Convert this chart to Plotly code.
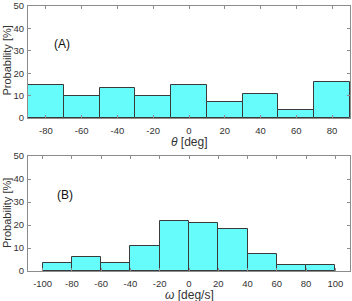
import plotly.graph_objects as go

# Panel A data
theta_edges = [-90, -70, -50, -30, -10, 10, 30, 50, 70, 90]
theta_prob = [14.6, 9.85, 13.4, 9.85, 14.6, 7.3, 10.9, 3.6, 15.9]
theta_ticks = [-80, -60, -40, -20, 0, 20, 40, 60, 80]
theta_ticktext = ["-80", "-60", "-40", "-20", "0", "20", "40", "60", "80"]

# Panel B data
omega_edges = [-100, -80, -60, -40, -20, 0, 20, 40, 60, 80, 100]
omega_prob = [3.6, 6.1, 3.6, 10.9, 21.9, 20.7, 18.1, 7.2, 2.5, 2.5]
omega_ticks = [-100, -80, -60, -40, -20, 0, 20, 40, 60, 80, 100]
omega_ticktext = ["-100", "-80", "-60", "-40", "-20", "0", "20", "40", "60", "80", "100"]

y_ticks = [0, 10, 20, 30, 40, 50]

FILL = "#66FCFC"
EDGE = "#3A3A3A"
FRAME = "#8C8C8C"
FONT = "Liberation Sans, Arial, Helvetica, sans-serif"
W, H = 352, 301


def centers(edges):
    return [(a + b) / 2 for a, b in zip(edges[:-1], edges[1:])]


def widths(edges):
    return [b - a for a, b in zip(edges[:-1], edges[1:])]


fig = go.Figure()
fig.add_trace(go.Bar(x=centers(theta_edges), y=theta_prob, width=widths(theta_edges),
                     marker=dict(color=FILL, line=dict(color=EDGE, width=1)),
                     xaxis="x", yaxis="y", showlegend=False))
fig.add_trace(go.Bar(x=centers(omega_edges), y=omega_prob, width=widths(omega_edges),
                     marker=dict(color=FILL, line=dict(color=EDGE, width=1)),
                     xaxis="x2", yaxis="y2", showlegend=False))

axis_common = dict(showline=True, linecolor=FRAME, linewidth=1, mirror="ticks",
                   ticks="inside", ticklen=3, tickcolor=FRAME, showgrid=False,
                   zeroline=False, automargin=False, ticklabeloverflow="allow",
                   tickfont=dict(size=9.5, color="#333333", family=FONT))

xd = [28 / W, 350 / W]
ya = [1 - 118 / H, 1 - 6 / H]
yb = [1 - 271 / H, 1 - 156 / H]

title_font = dict(size=11, color="#333333", family=FONT)


def paper_y(py):
    return 1 - py / H


fig.update_layout(
    width=W, height=H,
    margin=dict(l=0, r=0, t=0, b=0),
    paper_bgcolor="white", plot_bgcolor="white",
    font=dict(family=FONT, color="#333333"),
    bargap=0,
    xaxis=dict(domain=xd, range=[-90, 90], tickvals=theta_ticks, ticktext=theta_ticktext,
               anchor="y", ticklabelstandoff=4, **axis_common),
    yaxis=dict(domain=ya, range=[0, 50], tickvals=y_ticks, anchor="x", ticklabelstandoff=1,
               **axis_common),
    xaxis2=dict(domain=xd, range=[-110, 110], tickvals=omega_ticks, ticktext=omega_ticktext,
                anchor="y2", ticklabelstandoff=4, **axis_common),
    yaxis2=dict(domain=yb, range=[0, 50], tickvals=y_ticks, anchor="x2", ticklabelstandoff=1,
                **axis_common),
    annotations=[
        dict(text="(A)", x=-71, y=33, xref="x", yref="y", showarrow=False,
             font=dict(size=12, color="#111111", family=FONT)),
        dict(text="(B)", x=-85, y=33, xref="x2", yref="y2", showarrow=False,
             font=dict(size=12, color="#111111", family=FONT)),
        dict(text="Probability [%]", textangle=-90, x=6.5 / W, y=paper_y(61), xref="paper",
             yref="paper", showarrow=False, font=title_font, xanchor="center", yanchor="middle"),
        dict(text="Probability [%]", textangle=-90, x=6.5 / W, y=paper_y(213.5), xref="paper",
             yref="paper", showarrow=False, font=title_font, xanchor="center", yanchor="middle"),
        dict(text="<i>θ</i> [deg]", x=189 / W, y=paper_y(142), xref="paper", yref="paper",
             showarrow=False, font=dict(size=12, color="#333333", family=FONT),
             xanchor="center", yanchor="middle"),
        dict(text="<i>ω</i> [deg/s]", x=189 / W, y=paper_y(295), xref="paper", yref="paper",
             showarrow=False, font=dict(size=12, color="#333333", family=FONT),
             xanchor="center", yanchor="middle"),
    ],
)

fig.write_html("out.html",
               config={"displayModeBar": False},
               post_script="document.body.style.margin='0';document.body.style.padding='0';"
                           "document.documentElement.style.overflow='hidden';")
